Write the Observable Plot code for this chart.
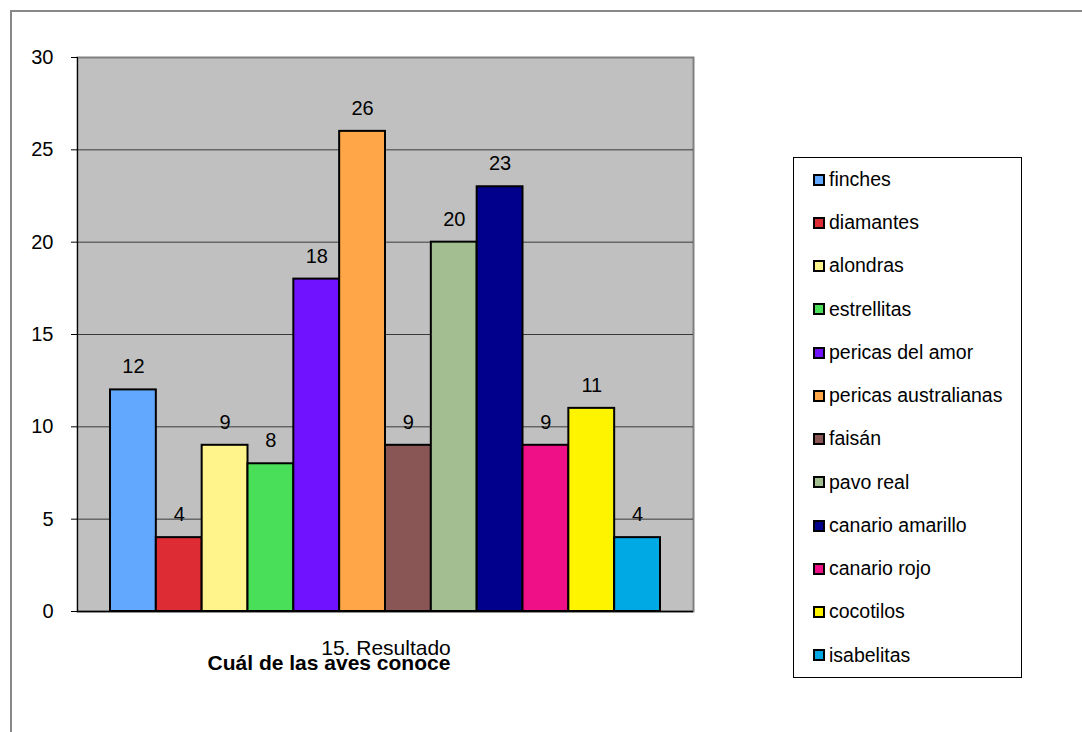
<!DOCTYPE html>
<html>
<head>
<meta charset="utf-8">
<script src="https://cdn.jsdelivr.net/npm/d3@7"></script>
<script src="https://cdn.jsdelivr.net/npm/@observablehq/plot@0.6"></script>
<style>
  body { margin: 0; background: #fff; font-family: "Liberation Sans", Arial, sans-serif; }
  #wrap { position: relative; width: 1082px; height: 732px; overflow: hidden; }
  #sheet { position: absolute; left: 10px; top: 10px; width: 2000px; height: 2000px;
           border-left: 2px solid #888; border-top: 2px solid #888; }
  #chart { position: absolute; left: 0; top: 0; }
  .caption { position: absolute; transform: translate(-50%, -50%); white-space: nowrap;
             line-height: 1; color: #000; }
  #xlabel { left: 386px; top: 647px; font-size: 21px; }
  #title { left: 329px; top: 662px; font-size: 21px; font-weight: bold; }
  #legend { position: absolute; left: 793px; top: 157px; width: 227px; height: 519px;
            border: 1px solid #000; background: #fff; display: flex; flex-direction: column;
            justify-content: space-around; }
  .item { display: flex; align-items: center; padding-left: 19px; font-size: 19.5px; line-height: 1; }
  .swatch { box-sizing: border-box; width: 12px; height: 12px; border: 2px solid #000; margin-right: 4px; }
</style>
</head>
<body>
<div id="wrap">
  <div id="sheet"></div>
  <div id="chart"></div>
  <div id="xlabel" class="caption"></div>
  <div id="title" class="caption"></div>
  <div id="legend"></div>
</div>
<script>
// Bird species and how many respondents know each one
const birds = [
  "finches", "diamantes", "alondras", "estrellitas", "pericas del amor",
  "pericas australianas", "faisán", "pavo real", "canario amarillo",
  "canario rojo", "cocotilos", "isabelitas"
];
const counts = [12, 4, 9, 8, 18, 26, 9, 20, 23, 9, 11, 4];
const colors = [
  "#62A8FF", "#DD2C33", "#FFF48C", "#4ADF58", "#7012FF", "#FFA748",
  "#8A5555", "#A3BF92", "#00008C", "#EF0F86", "#FFF400", "#00A9E4"
];
const yTicks = [0, 5, 10, 15, 20, 25, 30];
const xLabel = "15. Resultado";
const title = "Cuál de las aves conoce";

const rows = birds.map((bird, i) => ({bird, count: counts[i]}));

const chart = Plot.plot({
  width: 1082,
  height: 732,
  marginLeft: 77,
  marginTop: 57,
  marginRight: 389,
  marginBottom: 121,
  style: {
    fontFamily: '"Liberation Sans", Arial, sans-serif',
    fontSize: "20px",
    color: "#000",
    background: "transparent",
    overflow: "visible"
  },
  x: {type: "band", domain: birds, paddingInner: 0, paddingOuter: 0.72, round: false, axis: null},
  y: {domain: [0, 30], axis: null},
  color: {domain: birds, range: colors},
  marks: [
    Plot.frame({fill: "#C0C0C0", stroke: "#808080", strokeWidth: 2}),
    Plot.ruleY(yTicks.filter(t => t > 0 && t < 30), {stroke: "#3a3a3a", strokeWidth: 1}),
    Plot.frame({anchor: "left", stroke: "#000", strokeWidth: 1}),
    Plot.axisY({ticks: yTicks, tickSize: 6, tickPadding: 18, label: null, fontSize: 20, stroke: "#000"}),
    Plot.ruleY([0], {stroke: "#000", strokeWidth: 1.5}),
    Plot.barY(rows, {x: "bird", y: "count", fill: "bird", stroke: "#000", strokeWidth: 2}),
    Plot.text(rows, {x: "bird", y: "count", text: d => String(d.count), dy: -23, fill: "#000", fontSize: 20})
  ]
});
document.getElementById("chart").appendChild(chart);

document.getElementById("xlabel").textContent = xLabel;
document.getElementById("title").textContent = title;

const legend = document.getElementById("legend");
birds.forEach((bird, i) => {
  const item = document.createElement("div");
  item.className = "item";
  const sw = document.createElement("span");
  sw.className = "swatch";
  sw.style.background = colors[i];
  const label = document.createElement("span");
  label.textContent = bird;
  item.appendChild(sw);
  item.appendChild(label);
  legend.appendChild(item);
});
</script>
</body>
</html>
